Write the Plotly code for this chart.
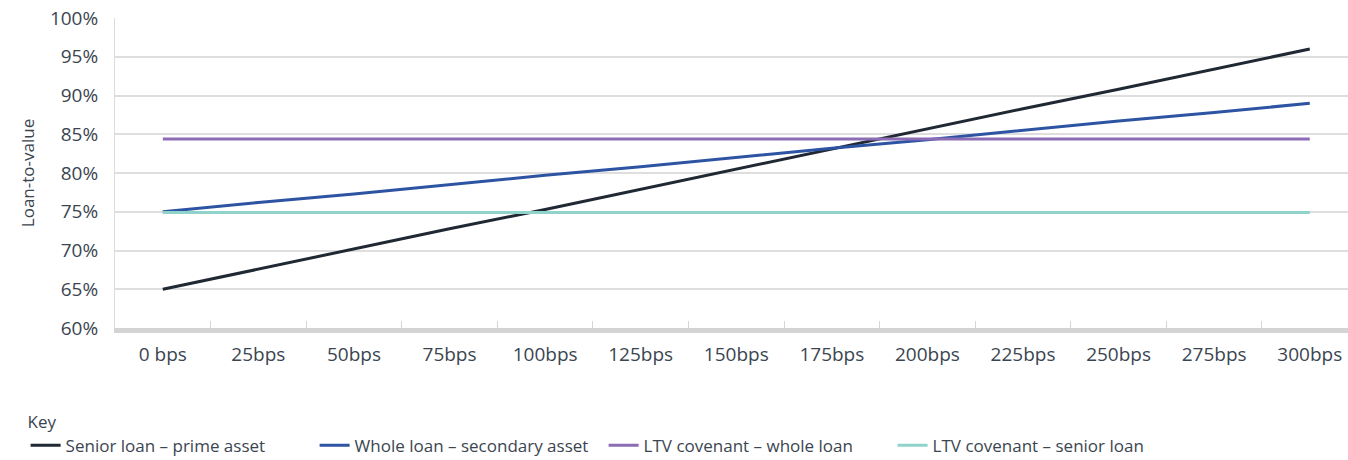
import plotly.graph_objects as go

categories = ["0 bps", "25bps", "50bps", "75bps", "100bps", "125bps", "150bps",
              "175bps", "200bps", "225bps", "250bps", "275bps", "300bps"]
senior_prime = [65.0, 67.6, 70.2, 72.8, 75.3, 77.9, 80.5, 83.1, 85.7, 88.3, 90.8, 93.4, 96.0]
whole_secondary = [75.0, 76.2, 77.3, 78.5, 79.7, 80.8, 82.0, 83.2, 84.3, 85.5, 86.7, 87.8, 89.0]
ltv_whole = [84.4] * 13
ltv_senior = [74.9] * 13

series = [
    ("Senior loan – prime asset", senior_prime, "#1f2833"),
    ("Whole loan – secondary asset", whole_secondary, "#2d54a3"),
    ("LTV covenant – whole loan", ltv_whole, "#8c6db5"),
    ("LTV covenant – senior loan", ltv_senior, "#8fd3ca"),
]

font_family = "Open Sans"
text_color = "#3b4550"

fig = go.Figure()
for name, vals, color in series:
    fig.add_trace(go.Scatter(x=categories, y=vals, name=name, mode="lines",
                             line=dict(color=color, width=3)))

fig.update_layout(
    width=1348, height=460,
    margin=dict(l=115, r=0, t=18, b=132),
    paper_bgcolor="white", plot_bgcolor="white",
    font=dict(family=font_family, color=text_color),
    legend=dict(
        orientation="h", xref="container", yref="container",
        x=0.019, y=0.118, xanchor="left", yanchor="top",
        title=dict(text="Key", side="top", font=dict(size=17, color=text_color)),
        font=dict(size=17, color=text_color),
        itemwidth=30, tracegroupgap=0,
        entrywidth=244, entrywidthmode="pixels",
    ),
)
fig.update_xaxes(
    type="category", range=[-0.5, 12.4],
    showgrid=False, showline=True, linecolor="#d4d4d4", linewidth=5,
    ticks="inside", tickson="boundaries", ticklen=7, tickcolor="#d4d4d4", tickwidth=1,
    tickfont=dict(size=19, color=text_color), ticklabelstandoff=5,
)
fig.update_yaxes(
    range=[60, 100], dtick=5, ticksuffix="%",
    showgrid=True, gridcolor="#dedede", gridwidth=1.5,
    showline=True, linecolor="#dcdcdc", linewidth=1,
    zeroline=False,
    tickfont=dict(size=19, color=text_color), ticklabelstandoff=12,
    title=dict(text="Loan-to-value", font=dict(size=17, color=text_color), standoff=10),
)

fig.write_html("out.html")
